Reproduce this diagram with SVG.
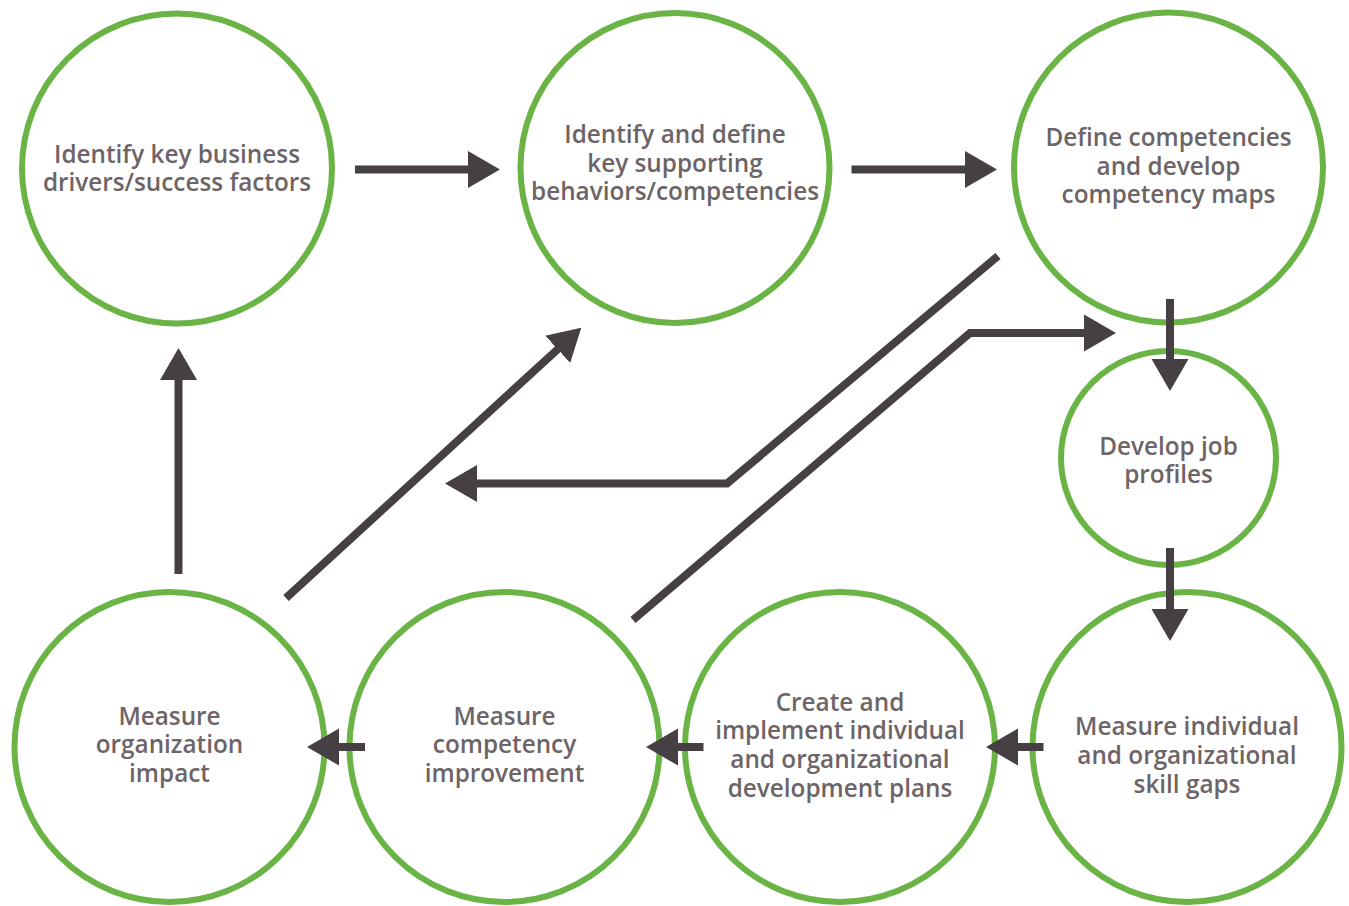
<svg xmlns="http://www.w3.org/2000/svg" width="1349" height="906" viewBox="0 0 1349 906">
<style>
.node ellipse{fill:#fff;stroke:#6ab446;stroke-width:6}
.node text{font-family:"Open Sans","Noto Sans","Liberation Sans",sans-serif;font-weight:600;font-size:24.3px;fill:#6d6467;text-anchor:middle}
.conn line,.conn polyline{fill:none;stroke:#463f44;stroke-width:8;stroke-linejoin:miter}
</style>
<defs>
<marker id="ah" markerUnits="userSpaceOnUse" viewBox="0 -19 33 38" refX="1" refY="0" markerWidth="33" markerHeight="38" orient="auto">
<path d="M0,-18.5 L32,0 L0,18.5 Z" fill="#463f44"/>
</marker>
</defs>
<rect width="1349" height="906" fill="#fff"/>
<g id="n1" class="node"><ellipse cx="177" cy="168.5" rx="155" ry="155"/>
<text x="177" y="163">Identify key business</text><text x="177" y="191">drivers/success factors</text></g>
<g id="n2" class="node"><ellipse cx="675" cy="168" rx="154.5" ry="155"/>
<text x="675" y="143">Identify and define</text><text x="675" y="172">key supporting</text><text x="675" y="200">behaviors/competencies</text></g>
<g id="n3" class="node"><ellipse cx="1168.5" cy="167.5" rx="154.5" ry="155"/>
<text x="1168.5" y="146">Define competencies</text><text x="1168.5" y="175">and develop</text><text x="1168.5" y="203">competency maps</text></g>
<g id="n4" class="node"><ellipse cx="1168.5" cy="458" rx="107.5" ry="107"/>
<text x="1168.5" y="455">Develop job</text><text x="1168.5" y="483">profiles</text></g>
<g id="n5" class="node"><ellipse cx="169.5" cy="747" rx="155" ry="155"/>
<text x="169.5" y="725">Measure</text><text x="169.5" y="753">organization</text><text x="169.5" y="782">impact</text></g>
<g id="n6" class="node"><ellipse cx="504.5" cy="747" rx="155" ry="155"/>
<text x="504.5" y="725">Measure</text><text x="504.5" y="753">competency</text><text x="504.5" y="782">improvement</text></g>
<g id="n7" class="node"><ellipse cx="840" cy="747" rx="155" ry="155"/>
<text x="840" y="711">Create and</text><text x="840" y="739">implement individual</text><text x="840" y="768">and organizational</text><text x="840" y="797">development plans</text></g>
<g id="n8" class="node"><ellipse cx="1187" cy="747" rx="154.5" ry="155"/>
<text x="1187" y="735">Measure individual</text><text x="1187" y="764">and organizational</text><text x="1187" y="793">skill gaps</text></g>
<g id="connectors" class="conn">
<line x1="355" y1="169.5" x2="469" y2="169.5" marker-end="url(#ah)"/>
<line x1="851.5" y1="169.5" x2="966" y2="169.5" marker-end="url(#ah)"/>
<line x1="1170" y1="299" x2="1170" y2="360" marker-end="url(#ah)"/>
<line x1="1170" y1="548" x2="1170" y2="610" marker-end="url(#ah)"/>
<line x1="1043.5" y1="747" x2="1017" y2="747" marker-end="url(#ah)"/>
<line x1="703.5" y1="747" x2="677" y2="747" marker-end="url(#ah)"/>
<line x1="365" y1="747" x2="338" y2="747" marker-end="url(#ah)"/>
<line x1="178.5" y1="574" x2="178.5" y2="379" marker-end="url(#ah)"/>
<line x1="286" y1="598" x2="558.4" y2="348.6" marker-end="url(#ah)"/>
<polyline points="998,256 727,483.5 476,483.5" marker-end="url(#ah)"/>
<polyline points="633,620 970,333 1085,333" marker-end="url(#ah)"/>
</g>
</svg>
